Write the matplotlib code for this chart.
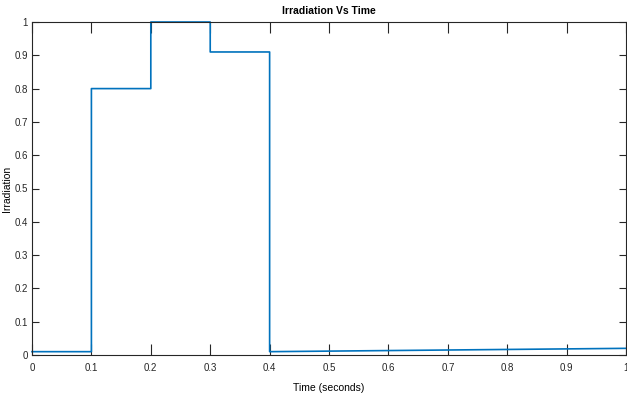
import matplotlib
matplotlib.use("Agg")
import matplotlib.pyplot as plt
from matplotlib.ticker import FuncFormatter

time_s = [0.0, 0.1, 0.1, 0.2, 0.2, 0.3, 0.3, 0.4, 0.4, 1.0]
irradiation = [0.01, 0.01, 0.8, 0.8, 1.0, 1.0, 0.91, 0.91, 0.01, 0.02]
ticks = [0, 0.1, 0.2, 0.3, 0.4, 0.5, 0.6, 0.7, 0.8, 0.9, 1.0]

plt.rcParams['font.family'] = ['Liberation Sans Narrow', 'Liberation Sans', 'DejaVu Sans']

fig = plt.figure(figsize=(6.27, 4.01), dpi=100)
ax = fig.add_axes([32/627, 1 - 355/401, 1 - 32/627 - 0.0015, (355 - 22)/401])
ax.plot(time_s, irradiation, color='#0072BD', linewidth=1.2, clip_on=False)
ax.set_xlim(0, 1)
ax.set_ylim(0, 1)
ax.set_xticks(ticks)
ax.set_yticks(ticks)
fmt = FuncFormatter(lambda v, p: f"{v:g}")
ax.xaxis.set_major_formatter(fmt)
ax.yaxis.set_major_formatter(fmt)
ax.tick_params(axis='both', direction='in', top=True, right=True, labelsize=7,
               colors='#262626', width=0.8)
ax.tick_params(axis='x', length=8, pad=6)
ax.tick_params(axis='y', length=5, pad=3)
for s in ax.spines.values():
    s.set_color('#262626')
    s.set_linewidth(0.8)
ax.set_title('Irradiation Vs Time', fontsize=7.5, fontweight='bold', pad=6)
ax.set_xlabel('Time (seconds)', fontsize=7.5, labelpad=7)
ax.set_ylabel('Irradiation', fontsize=7.5)
ax.yaxis.set_label_coords(-20/595, 0.5)
fig.savefig('out.png', dpi=100)
